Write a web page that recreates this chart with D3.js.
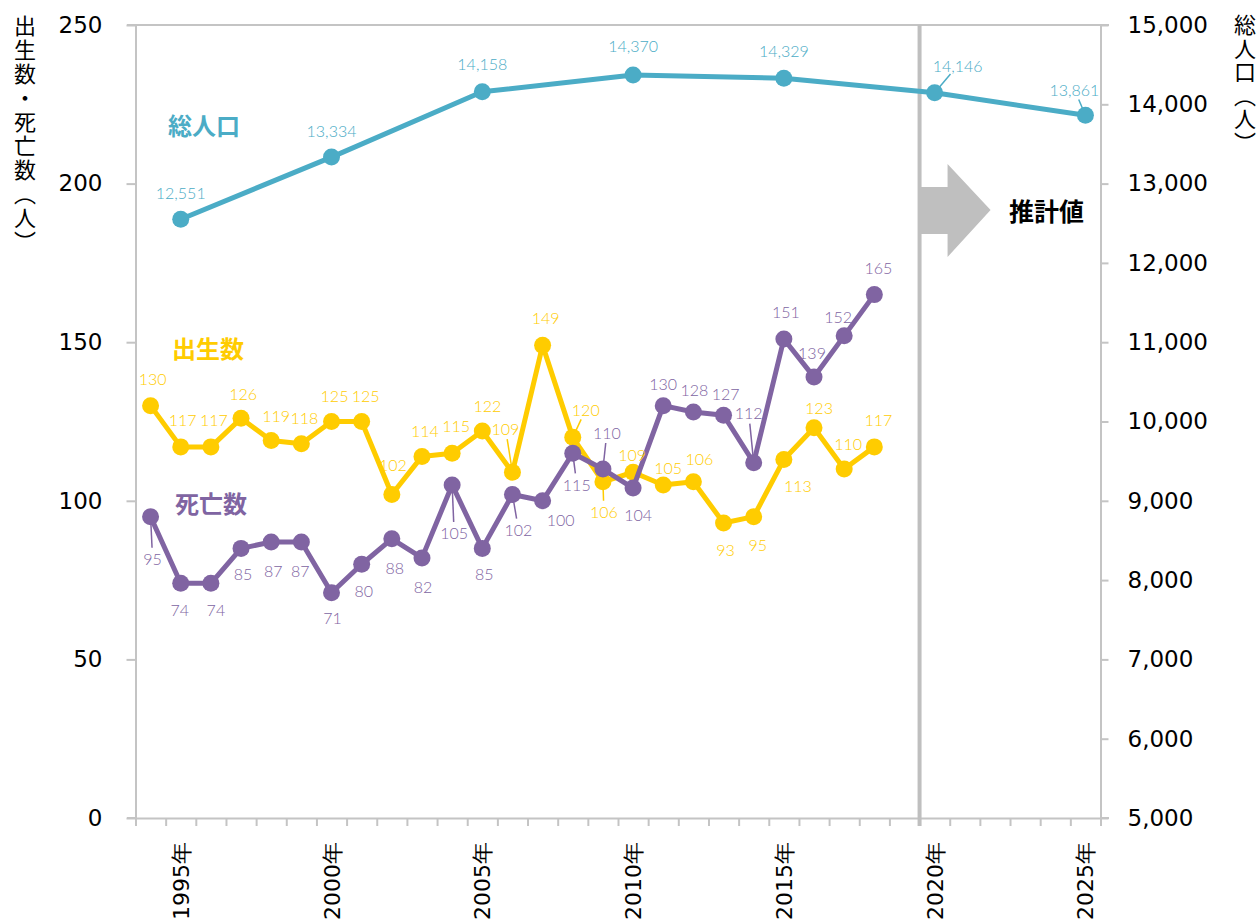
<!DOCTYPE html>
<html><head><meta charset="utf-8">
<script src="https://cdn.jsdelivr.net/npm/d3@7"></script>
<style>body{margin:0;background:#fff}svg{display:block}</style>
</head><body>
<svg id="c" width="1260" height="923"></svg>
<script>
// ---- data ----
const categories = ["1994","1995","1996","1997","1998","1999","2000","2001","2002","2003","2004","2005","2006","2007","2008","2009","2010","2011","2012","2013","2014","2015","2016","2017","2018","2019","2020","2021","2022","2023","2024","2025"];
const vitalYears = ["1994","1995","1996","1997","1998","1999","2000","2001","2002","2003","2004","2005","2006","2007","2008","2009","2010","2011","2012","2013","2014","2015","2016","2017","2018"];
const births = [130,117,117,126,119,118,125,125,102,114,115,122,109,149,120,106,109,105,106,93,95,113,123,110,117];
const deaths = [95,74,74,85,87,87,71,80,88,82,105,85,102,100,115,110,104,130,128,127,112,151,139,152,165];
const popYears = ["1995","2000","2005","2010","2015","2020","2025"];
const population = [12551,13334,14158,14370,14329,14146,13861];
const xTickCats = ["1995","2000","2005","2010","2015","2020","2025"];
const leftTicks = [0,50,100,150,200,250];
const rightTicks = [5000,6000,7000,8000,9000,10000,11000,12000,13000,14000,15000];

// label offsets (layout only): [dx, dy, leader]
const birthLbl = [[2,-27],[2,-27],[3,-27],[2,-25],[5,-25],[3,-26],[3,-26],[4,-26],[1,-30],[3,-26],[4,-28],[5,-26],[-7,-44,1],[3,-28],[13,-28,1],[1,30,1],[-1,-18],[5,-17],[6,-23],[2,26],[4,28],[14,26],[5,-20],[4,-26],[4,-27]];
const deathLbl = [[2,42,1],[-1,26],[5,26],[2,25],[2,28],[-1,28],[1,25],[2,26],[3,29],[1,29],[2,48,1],[2,25],[6,35,1],[18,19],[4,31,1],[4,-37,1],[5,26],[0,-22],[1,-22],[2,-22],[-5,-50,1],[2,-28],[-2,-25],[-6,-19],[4,-27]];
const popLbl = [[0,-27],[0,-27],[0,-28],[0,-29],[0,-28],[23,-27,1],[-11,-26,1]];

const C_POP = "#4BACC6", C_BIRTH = "#FFCC00", C_DEATH = "#8064A2", C_AX = "#C4C4C4";
const tickFont = "'DejaVu Sans', Verdana, sans-serif";
const lblFont = "Lato, 'Open Sans', sans-serif";
const cjkBold = "'Noto Sans CJK JP', sans-serif";

const svg = d3.select("#c");
const L = 135.5, R = 1100.5, T = 25, B = 818;
const x = d3.scaleBand().domain(categories).range([L, R]);
const xc = c => x(c) + x.bandwidth()/2;
const xIdx = d3.scaleLinear().domain([0, categories.length]).range([L, R]);
const yL = d3.scaleLinear().domain([0,250]).range([B, T]);
const yR = d3.scaleLinear().domain([5000,15000]).range([B, T]);

// top border
svg.append("line").attr("x1",127).attr("x2",1109).attr("y1",T).attr("y2",T).attr("stroke",C_AX).attr("stroke-width",2);

const gl = svg.append("g").attr("transform",`translate(${L},0)`)
  .call(d3.axisLeft(yL).tickValues(leftTicks).tickSize(9).tickSizeOuter(0).tickPadding(24));
const gr = svg.append("g").attr("transform",`translate(${R},0)`)
  .call(d3.axisRight(yR).tickValues(rightTicks).tickSize(8).tickSizeOuter(0).tickPadding(19).tickFormat(d3.format(",")));
const gb = svg.append("g").attr("transform",`translate(0,${B})`)
  .call(d3.axisBottom(xIdx).tickValues(d3.range(0, categories.length+1)).tickSize(8).tickSizeOuter(0).tickFormat(""));
svg.append("line").attr("x1",127).attr("x2",L).attr("y1",B).attr("y2",B).attr("stroke",C_AX).attr("stroke-width",2);
svg.append("line").attr("x1",R).attr("x2",1109).attr("y1",B).attr("y2",B).attr("stroke",C_AX).attr("stroke-width",2);
[gl,gr,gb].forEach(g=>{
  g.selectAll("path.domain").attr("stroke",C_AX).attr("stroke-width",2);
  g.selectAll(".tick line").attr("stroke",C_AX).attr("stroke-width",2);
  g.selectAll(".tick text").attr("fill","#000").style("font-family",tickFont).style("font-size","23px");
});

// x labels
svg.append("g").selectAll("text").data(xTickCats).join("text")
  .attr("transform", d=>`translate(${xc(d)+2},842) rotate(-90)`)
  .attr("text-anchor","end").attr("dominant-baseline","middle")
  .style("font-family",tickFont).style("font-size","22px").attr("fill","#000")
  .text(d=>d+"年");

// vertical axis titles
svg.append("text").attr("x",25).attr("y",15)
  .style("writing-mode","vertical-rl").style("text-orientation","upright")
  .style("font-family","'Noto Sans CJK JP', sans-serif").style("font-size","22px")
  .style("letter-spacing","2px").text("出生数・死亡数（人）");
svg.append("text").attr("x",1245).attr("y",14)
  .style("writing-mode","vertical-rl").style("text-orientation","upright")
  .style("font-family","'Noto Sans CJK JP', sans-serif").style("font-size","22px")
  .style("letter-spacing","1.5px").text("総人口（人）");

// forecast divider and arrow
const divX = xIdx(categories.indexOf("2020"));
svg.append("rect").attr("x",divX-2).attr("y",T).attr("width",4).attr("height",B-T+8).attr("fill","#BFBFBF");
svg.append("polygon").attr("points",[[divX,187],[divX+28,187],[divX+28,164],[divX+71,210],[divX+28,257],[divX+28,234],[divX,234]].map(p=>p.join(",")).join(" ")).attr("fill","#BFBFBF");
svg.append("text").attr("x",1009).attr("y",210).attr("dominant-baseline","central")
  .style("font-family",cjkBold).style("font-weight",700).style("font-size","25px").attr("fill","#000").text("推計値");

// series
const lineLayer = svg.append("g"), labelLayer = svg.append("g");
function drawSeries(cats, vals, yS, color, lbls, fmt){
  const g = lineLayer.append("g");
  const pts = cats.map((c,i)=>({x:xc(c), y:yS(vals[i]), v:vals[i], o:lbls[i]}));
  g.append("path").datum(pts).attr("fill","none").attr("stroke",color).attr("stroke-width",5)
    .attr("stroke-linejoin","round").attr("d", d3.line().x(d=>d.x).y(d=>d.y));
  g.selectAll("line.ld").data(pts.filter(p=>p.o[2])).join("line")
    .attr("x1",d=>d.x).attr("y1",d=>d.y)
    .attr("x2",d=>{const dx=d.o[0],dy=d.o[1],len=Math.hypot(dx,dy);return d.x+dx*(len-11)/len;})
    .attr("y2",d=>{const dx=d.o[0],dy=d.o[1],len=Math.hypot(dx,dy);return d.y+dy*(len-11)/len;})
    .attr("stroke",color).attr("stroke-width",1.5);
  g.selectAll("circle").data(pts).join("circle").attr("cx",d=>d.x).attr("cy",d=>d.y).attr("r",8.5).attr("fill",color);
  labelLayer.append("g").selectAll("text").data(pts).join("text")
    .attr("x",d=>d.x+d.o[0]).attr("y",d=>d.y+d.o[1]).attr("text-anchor","middle").attr("dominant-baseline","central")
    .style("font-family",lblFont).style("font-weight",300).style("font-size","16px").attr("fill",color).text(d=>fmt(d.v));
}
drawSeries(popYears, population, yR, C_POP, popLbl, d3.format(","));
drawSeries(vitalYears, births, yL, C_BIRTH, birthLbl, String);
drawSeries(vitalYears, deaths, yL, C_DEATH, deathLbl, String);

// series names
const names = [["総人口",168,124,C_POP],["出生数",172,347,C_BIRTH],["死亡数",175,502,C_DEATH]];
svg.append("g").selectAll("text").data(names).join("text")
  .attr("x",d=>d[1]).attr("y",d=>d[2]).attr("dominant-baseline","central")
  .style("font-family",cjkBold).style("font-weight",700).style("font-size","24px").attr("fill",d=>d[3]).text(d=>d[0]);
</script>
</body></html>
